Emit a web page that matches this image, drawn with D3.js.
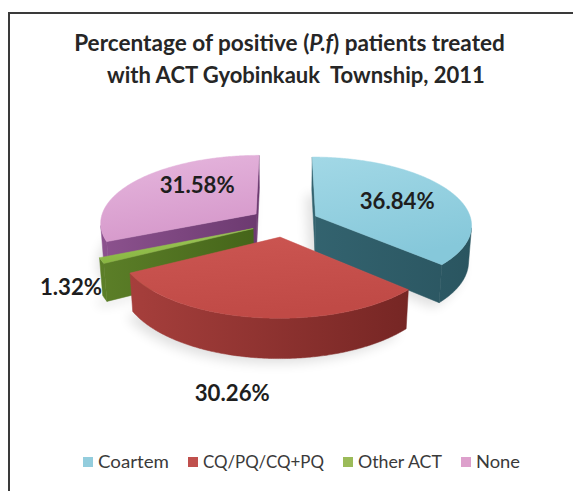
<!DOCTYPE html>
<html>
<head>
<meta charset="utf-8">
<script src="https://cdn.jsdelivr.net/npm/d3@7"></script>
<style>
  body { margin: 0; background: #fff; }
  svg { display: block; }
  text { font-family: Lato, "Open Sans", sans-serif; }
</style>
</head>
<body>
<svg id="chart" width="573" height="491"></svg>
<script>

// data
const categories = ["Coartem", "CQ/PQ/CQ+PQ", "Other ACT", "None"];
const values = [36.84, 30.26, 1.32, 31.58];
const valueLabels = ["36.84%", "30.26%", "1.32%", "31.58%"];

// styles
const legendColors = ["#93cddd", "#c0504d", "#9bbb59", "#dda0cc"];
const topColors  = [["#a2d8e6", "#86c8da"], ["#cc5652", "#c04a46"], ["#a4cd60", "#86b43f"], ["#e6b7de", "#d699cb"]];
const sideColors = [["#33636f", "#2a5560"], ["#a63f3c", "#762624"], ["#5c7f28", "#45651a"], ["#8c528e", "#6c3a70"]];

// 3d view, radius of the pie = 1
const view = {
  cx: 284.4, cy: 258,
  f: 1152, dist: 7.5,
  sinE: 0.46, cosE: 0.888,
  height: 0.26,
  explode: 0.22
};

// where the value labels sit (radius, angle nudge in degrees, height)
const labelR  = [0.6, 1.36, 1.2, 0.62];
const labelDA = [0, 3.5, 0, 15];
const labelH  = [1, 0, 0.5, 1];

// legend text widths measured on the reference (Calibri)
const legendWidths = [71, 121, 84, 44];

const svg = d3.select("#chart");
const defs = svg.append("defs");

/**
 * Project a point of the pie (X right, H up, Z toward viewer)
 */
function project(X, H, Z){
  const w = view.dist - H * view.sinE - Z * view.cosE;
  return [view.cx + view.f * X / w, view.cy + view.f * (Z * view.sinE - H * view.cosE) / w];
}

const camZ = view.dist * view.cosE;

function facing(nx, nz, px, pz){
  return nx * (0 - px) + nz * (camZ - pz) > 0;
}

// frame
svg.append("path")
  .attr("d", "M9,491V13H573")
  .attr("fill", "none")
  .attr("stroke", "#3a3a3a")
  .attr("stroke-width", 2);

// title
const title = svg.append("g").attr("class", "title")
  .attr("fill", "#262626")
  .attr("font-weight", "bold")
  .attr("text-anchor", "middle");

const t1 = title.append("text").attr("x", 289.5).attr("y", 51);
t1.append("tspan").text("Percentage of positive (");
t1.append("tspan").attr("font-style", "italic").text("P.f");
t1.append("tspan").text(") patients treated");

const t2 = title.append("text").attr("x", 296).attr("y", 83)
  .attr("xml:space", "preserve")
  .text("with ACT Gyobinkauk  Township, 2011");

function fit(sel, width, base){
  sel.attr("font-size", base);
  const w = sel.node().getComputedTextLength();
  sel.attr("font-size", base * width / w);
  return base * width / w;
}

fit(t1, 431, 20);
fit(t2, 378, 20);

// pie
const pie = d3.pie().sort(null).value(d => d)(values);

const slices = pie.map((d, i) => {
  const mid = (d.startAngle + d.endAngle) / 2;
  return {
    i: i,
    a0: d.startAngle,
    a1: d.endAngle,
    mid: mid,
    ox: view.explode * Math.sin(mid),
    oz: -view.explode * Math.cos(mid)
  };
});

const line = d3.line();
const h = view.height;

// soft shadow under the pie
const blur = defs.append("filter").attr("id", "blur")
  .attr("x", -0.2).attr("y", -0.2).attr("width", 1.4).attr("height", 1.4);
blur.append("feGaussianBlur").attr("stdDeviation", 6);

const shadowG = svg.append("g").attr("class", "shadow")
  .attr("filter", "url(#blur)")
  .attr("opacity", 0.12);

// far slices first
const order = slices.slice().sort((a, b) => a.oz - b.oz);

const pieG = svg.append("g").attr("class", "pie");

order.forEach(s => {

  const g = pieG.append("g").attr("class", "slice slice" + s.i);

  const rim = (t, H) => project(s.ox + Math.sin(t), H, s.oz - Math.cos(t));
  const apexTop = project(s.ox, h, s.oz);
  const apexBot = project(s.ox, 0, s.oz);

  const n = Math.max(2, Math.ceil((s.a1 - s.a0) / 0.01));
  const angles = d3.range(n + 1).map(k => s.a0 + (s.a1 - s.a0) * k / n);

  shadowG.append("path")
    .attr("d", line([apexBot].concat(angles.map(t => rim(t, 0)))) + "Z")
    .attr("transform", "translate(-6,5)")
    .attr("fill", "#000");

  // gradients
  const xs = angles.map(t => rim(t, h)[0]).concat([apexTop[0]]);
  const sideGrad = defs.append("linearGradient")
    .attr("id", "side" + s.i)
    .attr("gradientUnits", "userSpaceOnUse")
    .attr("x1", d3.min(xs)).attr("x2", d3.max(xs))
    .attr("y1", 0).attr("y2", 0);
  sideGrad.append("stop").attr("offset", 0).attr("stop-color", sideColors[s.i][0]);
  sideGrad.append("stop").attr("offset", 1).attr("stop-color", sideColors[s.i][1]);

  const topGrad = defs.append("linearGradient")
    .attr("id", "top" + s.i)
    .attr("x1", 0).attr("x2", 0.3).attr("y1", 0).attr("y2", 1);
  topGrad.append("stop").attr("offset", 0).attr("stop-color", topColors[s.i][0]);
  topGrad.append("stop").attr("offset", 1).attr("stop-color", topColors[s.i][1]);

  // radial cut faces
  const faces = [
    {t: s.a0, nx: -Math.cos(s.a0), nz: -Math.sin(s.a0)},
    {t: s.a1, nx:  Math.cos(s.a1), nz:  Math.sin(s.a1)}
  ];
  faces.forEach(f => {
    if(!facing(f.nx, f.nz, s.ox, s.oz)) return;
    g.append("path")
      .attr("d", line([apexTop, rim(f.t, h), rim(f.t, 0), apexBot]) + "Z")
      .attr("fill", "url(#side" + s.i + ")")
      .attr("stroke", "url(#side" + s.i + ")")
      .attr("stroke-width", 0.5);
  });

  // outer wall, visible runs only
  let runs = [], cur = null;
  for (let k = 0; k < n; k++) {
    const t = (angles[k] + angles[k + 1]) / 2;
    const vis = facing(Math.sin(t), -Math.cos(t), s.ox + Math.sin(t), s.oz - Math.cos(t));
    if(vis){
      if(!cur){ cur = [angles[k]]; runs.push(cur); }
      cur.push(angles[k + 1]);
    } else {
      cur = null;
    }
  }
  runs.forEach(run => {
    const pts = run.map(t => rim(t, h)).concat(run.slice().reverse().map(t => rim(t, 0)));
    g.append("path")
      .attr("d", line(pts) + "Z")
      .attr("fill", "url(#side" + s.i + ")")
      .attr("stroke", "url(#side" + s.i + ")")
      .attr("stroke-width", 0.5);
  });

  // top face
  g.append("path")
    .attr("d", line([apexTop].concat(angles.map(t => rim(t, h)))) + "Z")
    .attr("fill", "url(#top" + s.i + ")")
    .attr("stroke", "url(#top" + s.i + ")")
    .attr("stroke-width", 0.5);
});

// value labels
const labelG = svg.append("g").attr("class", "labels")
  .attr("fill", "#1e1e1e")
  .attr("font-weight", "bold")
  .attr("text-anchor", "middle");

const probe = labelG.append("text").text(valueLabels[0]);
const labelSize = fit(probe, 75, 20);
probe.remove();

slices.forEach(s => {
  const t = s.mid + labelDA[s.i] * Math.PI / 180;
  const r = labelR[s.i];
  const p = project(s.ox + r * Math.sin(t), labelH[s.i] * h, s.oz - r * Math.cos(t));
  labelG.append("text")
    .attr("x", p[0])
    .attr("y", p[1])
    .attr("dy", "0.36em")
    .attr("font-size", labelSize)
    .text(valueLabels[s.i]);
});

// legend
const legend = svg.append("g").attr("class", "legend");
const box = 10, boxGap = 5, itemGap = 19;

const total = d3.sum(legendWidths, w => box + boxGap + w) + itemGap * (categories.length - 1);
let x0 = 301.5 - total / 2;

categories.forEach((c, i) => {
  legend.append("rect")
    .attr("x", x0)
    .attr("y", 457)
    .attr("width", box).attr("height", box)
    .attr("fill", legendColors[i]);
  legend.append("text")
    .attr("x", x0 + box + boxGap)
    .attr("y", 468)
    .attr("fill", "#3a3a3a")
    .attr("font-size", 17)
    .attr("textLength", legendWidths[i])
    .attr("lengthAdjust", "spacingAndGlyphs")
    .text(c);
  x0 += box + boxGap + legendWidths[i] + itemGap;
});

</script>
</body>
</html>
